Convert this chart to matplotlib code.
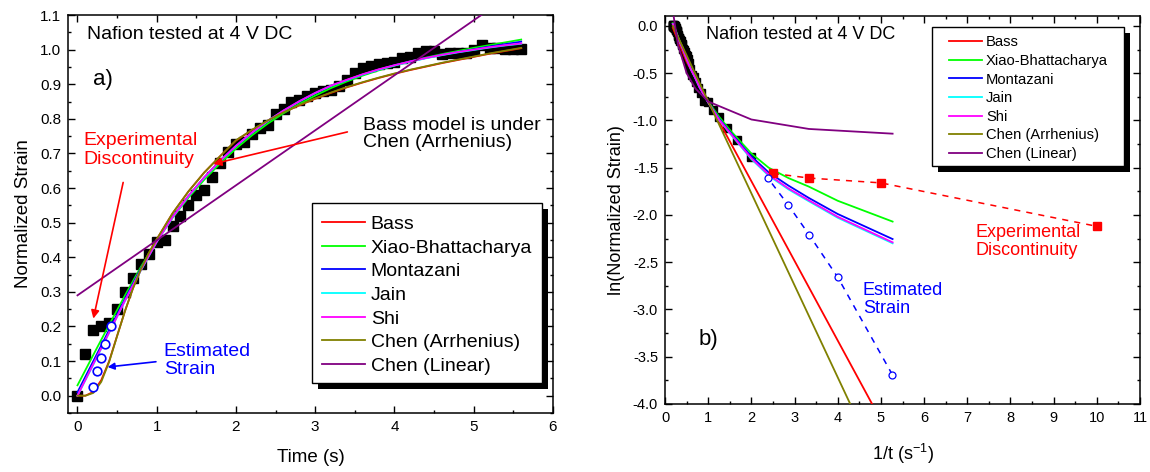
import numpy as np
import matplotlib
matplotlib.use("Agg")
import matplotlib.pyplot as plt
from matplotlib.patches import Rectangle
from matplotlib.ticker import MultipleLocator, FormatStrFormatter

plt.rcParams['font.family'] = ['Liberation Sans', 'DejaVu Sans']
plt.rcParams['axes.unicode_minus'] = False
plt.rcParams['mathtext.default'] = 'regular'

# ------------------------------
# Measured strain (Nafion, 4 V DC)
# ------------------------------
time_s = np.array([0.0, 0.1, 0.2, 0.3, 0.4, 0.5, 0.6, 0.7, 0.8, 0.9, 1.0, 1.1, 1.2, 1.3, 1.4,
                   1.5, 1.6, 1.7, 1.8, 1.9, 2.0, 2.1, 2.2, 2.3, 2.4, 2.5, 2.6, 2.7, 2.8, 2.9,
                   3.0, 3.1, 3.2, 3.3, 3.4, 3.5, 3.6, 3.7, 3.8, 3.9, 4.0, 4.1, 4.2, 4.3, 4.4,
                   4.5, 4.6, 4.7, 4.8, 4.9, 5.0, 5.1, 5.2, 5.3, 5.4, 5.5, 5.6])
strain = np.array([0.0, 0.12, 0.19, 0.20, 0.21, 0.25, 0.30, 0.34, 0.38, 0.41, 0.445, 0.45, 0.49,
                   0.52, 0.55, 0.58, 0.593, 0.632, 0.672, 0.703, 0.728, 0.732, 0.756, 0.774, 0.783,
                   0.815, 0.827, 0.85, 0.855, 0.865, 0.875, 0.88, 0.884, 0.895, 0.913, 0.933, 0.947,
                   0.952, 0.957, 0.96, 0.965, 0.975, 0.98, 0.99, 0.995, 0.995, 0.986, 0.99, 0.99,
                   0.99, 1.0, 1.014, 1.005, 1.005, 1.002, 1.002, 1.002])

# estimated strain (open circles)
est_t = np.array([0.19, 0.25, 0.30, 0.35, 0.42])
est_strain = np.array([0.025, 0.07, 0.11, 0.15, 0.20])

# ------------------------------
# Model fits, panel a)
# ------------------------------
fit_t = [0.0, 0.2, 0.4, 0.6, 0.8, 1.0, 1.2, 1.4, 1.6, 1.8, 2.0, 2.2, 2.4, 2.6, 2.8, 3.0, 3.2,
         3.4, 3.6, 3.8, 4.0, 4.2, 4.4, 4.6, 4.8, 5.0, 5.2, 5.4, 5.6]
xiao = [0.03, 0.118, 0.205, 0.29, 0.372, 0.447, 0.514, 0.572, 0.624, 0.671, 0.714, 0.752, 0.786,
        0.816, 0.843, 0.867, 0.889, 0.908, 0.925, 0.940, 0.954, 0.966, 0.977, 0.987, 0.996,
        1.005, 1.013, 1.021, 1.029]
montazani = [0.01, 0.10, 0.19, 0.28, 0.367, 0.447, 0.517, 0.577, 0.631, 0.679, 0.722, 0.760,
             0.794, 0.824, 0.851, 0.875, 0.896, 0.912, 0.928, 0.942, 0.955, 0.966, 0.976, 0.985,
             0.993, 1.001, 1.009, 1.016, 1.023]
jain = [0.0, 0.09, 0.182, 0.274, 0.362, 0.444, 0.515, 0.576, 0.630, 0.678, 0.721, 0.759, 0.793,
        0.823, 0.850, 0.874, 0.895, 0.912, 0.928, 0.942, 0.954, 0.965, 0.975, 0.984, 0.992,
        0.999, 1.006, 1.012, 1.017]
shi = [0.0, 0.092, 0.183, 0.275, 0.363, 0.445, 0.516, 0.577, 0.631, 0.679, 0.722, 0.760, 0.794,
       0.824, 0.851, 0.875, 0.896, 0.913, 0.929, 0.943, 0.955, 0.966, 0.976, 0.985, 0.993,
       1.000, 1.007, 1.013, 1.018]

arr_t = [0.0, 0.1, 0.2, 0.3, 0.4, 0.5, 0.6, 0.7, 0.8, 0.9, 1.0, 1.2, 1.4, 1.6, 1.8, 2.0, 2.2,
         2.4, 2.6, 2.8, 3.0, 3.2, 3.4, 3.6, 3.8, 4.0, 4.2, 4.4, 4.6, 4.8, 5.0, 5.2, 5.4, 5.6]
chen_arr = [0.0, 0.0, 0.008, 0.04, 0.098, 0.172, 0.245, 0.31, 0.365, 0.412, 0.452, 0.527, 0.59,
            0.645, 0.692, 0.738, 0.768, 0.795, 0.819, 0.840, 0.859, 0.876, 0.892, 0.906, 0.919,
            0.931, 0.942, 0.952, 0.962, 0.971, 0.980, 0.989, 0.997, 1.005]
bass = [0.0, 0.0, 0.011, 0.045, 0.1, 0.173, 0.245, 0.31, 0.365, 0.412, 0.452, 0.527, 0.59,
        0.645, 0.692, 0.737, 0.767, 0.794, 0.818, 0.839, 0.858, 0.875, 0.891, 0.905, 0.918,
        0.930, 0.941, 0.951, 0.961, 0.970, 0.979, 0.988, 0.996, 1.004]
lin_t = [0.0, 5.6]
chen_lin = [0.29, 1.18]

# ------------------------------
# Model fits, panel b)  (x = 1/t, y = ln strain)
# ------------------------------
inv_x = [0.18, 0.2, 0.25, 0.33, 0.4, 0.5, 0.6, 0.7, 0.8, 0.9, 1.0, 1.25, 1.5, 2.0, 2.4, 2.86,
         3.33, 4.0, 5.27]
ln_xiao = [0.03, 0.01, -0.05, -0.15, -0.22, -0.34, -0.45, -0.55, -0.64, -0.72, -0.80, -0.96,
           -1.10, -1.35, -1.50, -1.61, -1.70, -1.85, -2.07]
ln_montazani = [0.02, 0.0, -0.06, -0.16, -0.23, -0.35, -0.46, -0.55, -0.65, -0.73, -0.81, -0.98,
                -1.12, -1.38, -1.55, -1.69, -1.82, -1.99, -2.255]
ln_jain = [0.02, 0.0, -0.06, -0.16, -0.23, -0.35, -0.46, -0.55, -0.65, -0.73, -0.81, -0.995,
           -1.135, -1.41, -1.585, -1.73, -1.855, -2.03, -2.30]
ln_shi = [0.02, 0.0, -0.06, -0.16, -0.23, -0.35, -0.46, -0.55, -0.65, -0.73, -0.81, -0.99,
          -1.13, -1.40, -1.575, -1.72, -1.845, -2.02, -2.29]
bass_x = [0.18, 0.5, 1.0, 5.27]
ln_bass = [-0.02, -0.38, -0.80, -4.40]
arr_x = [0.18, 5.27]
ln_chen_arr = [0.0, -4.955]
lin_x = [0.18, 0.3, 0.5, 0.7, 1.0, 2.0, 3.33, 5.27]
ln_chen_lin = [0.16, -0.20, -0.50, -0.66, -0.80, -0.99, -1.09, -1.14]

labels = ['Bass', 'Xiao-Bhattacharya', 'Montazani', 'Jain', 'Shi', 'Chen (Arrhenius)', 'Chen (Linear)']
colors = ['#ff0000', '#00ff00', '#0000ff', '#00ffff', '#ff00ff', '#808000', '#800080']

fig = plt.figure(figsize=(11.5, 4.72), dpi=100)
ax1 = fig.add_axes([0.0591, 0.125, 0.4217, 0.8432])
ax2 = fig.add_axes([0.5783, 0.1441, 0.4130, 0.8210])


def style_axes(ax, labelsize):
    for s in ax.spines.values():
        s.set_linewidth(1.1)
    ax.tick_params(which='both', direction='in', top=True, right=True, width=1,
                   labelsize=labelsize, pad=5)
    ax.tick_params(which='major', length=5)
    ax.tick_params(which='minor', length=2.5)


def boxed_legend(ax, handles, box, shadow, anchor, fontsize, handlelength):
    x0, y0, x1, y1 = box
    dx, dy = shadow
    ax.add_patch(Rectangle((x0 + dx, y0 - dy), x1 - x0, y1 - y0, transform=ax.transAxes,
                           facecolor='black', edgecolor='none', zorder=4.8, clip_on=False))
    ax.add_patch(Rectangle((x0, y0), x1 - x0, y1 - y0, transform=ax.transAxes,
                           facecolor='white', edgecolor='black', lw=1.0, zorder=4.9,
                           clip_on=False))
    leg = ax.legend(handles=handles, loc='upper left', bbox_to_anchor=anchor, frameon=False,
                    fontsize=fontsize, handlelength=handlelength, handletextpad=0.3,
                    labelspacing=0.31, borderpad=0, borderaxespad=0)
    leg.set_zorder(6)
    return leg


# ==============================
# a) strain vs time
# ==============================
ax1.plot(time_s, strain, 's', color='black', ms=7.4, zorder=2)
fits_a = [(arr_t, bass), (fit_t, xiao), (fit_t, montazani), (fit_t, jain), (fit_t, shi),
          (arr_t, chen_arr), (lin_t, chen_lin)]
handles = []
for (xs, ys), lab, col in zip(fits_a, labels, colors):
    h, = ax1.plot(xs, ys, '-', color=col, lw=1.3, label=lab, zorder=3)
    handles.append(h)
ax1.plot(est_t, est_strain, 'o', mfc='white', mec='#0000ff', mew=1.2, ms=6.2, zorder=4)

ax1.set_xlim(-0.12, 6)
ax1.set_ylim(-0.05, 1.1)
ax1.xaxis.set_major_locator(MultipleLocator(1))
ax1.xaxis.set_minor_locator(MultipleLocator(0.5))
ax1.yaxis.set_major_locator(MultipleLocator(0.1))
ax1.yaxis.set_minor_locator(MultipleLocator(0.05))
ax1.yaxis.set_major_formatter(FormatStrFormatter('%.1f'))
style_axes(ax1, 11)
ax1.set_xlabel('Time (s)', fontsize=13.5, labelpad=11)
ax1.set_ylabel('Normalized Strain', fontsize=13.5, labelpad=6)

ax1.text(0.12, 1.043, 'Nafion tested at 4 V DC', fontsize=14, va='center')
ax1.text(0.2, 0.913, 'a)', fontsize=16, va='center')
ax1.text(0.07, 0.71, 'Experimental\nDiscontinuity', fontsize=14, color='red', va='center',
         linespacing=1.1)
ax1.text(3.6, 0.756, 'Bass model is under\nChen (Arrhenius)', fontsize=14, va='center',
         linespacing=1.05)
ax1.text(1.09, 0.101, 'Estimated\nStrain', fontsize=14, color='#0000ff', va='center',
         linespacing=1.1)
ax1.annotate('', xy=(0.193, 0.215), xytext=(0.584, 0.624),
             arrowprops=dict(arrowstyle='-|>', color='red', lw=1.2, mutation_scale=12))
ax1.annotate('', xy=(1.68, 0.668), xytext=(3.44, 0.764),
             arrowprops=dict(arrowstyle='-|>', color='red', lw=1.2, mutation_scale=12))
ax1.annotate('', xy=(0.345, 0.082), xytext=(1.025, 0.099),
             arrowprops=dict(arrowstyle='-|>', color='#0000ff', lw=1.2, mutation_scale=10))

boxed_legend(ax1, handles, (0.5025, 0.076, 0.978, 0.527), (0.0124, 0.015),
             (0.5243, 0.4965), 14, 2.2)

# ==============================
# b) ln(strain) vs 1/t
# ==============================
exp_mask = time_s >= 0.45
disc_mask = (time_s > 0) & (time_s < 0.45)
disc_x = 1.0 / time_s[disc_mask]
disc_y = np.log(strain[disc_mask])
order = np.argsort(disc_x)

ax2.plot(1.0 / time_s[exp_mask], np.log(strain[exp_mask]), 's', color='black', ms=5.8, zorder=2)
fits_b = [(bass_x, ln_bass), (inv_x, ln_xiao), (inv_x, ln_montazani), (inv_x, ln_jain),
          (inv_x, ln_shi), (arr_x, ln_chen_arr), (lin_x, ln_chen_lin)]
handles_b = []
for (xs, ys), lab, col in zip(fits_b, labels, colors):
    h, = ax2.plot(xs, ys, '-', color=col, lw=1.3, label=lab, zorder=3)
    handles_b.append(h)
ax2.plot(disc_x[order], disc_y[order], ls=(0, (4, 4)), color='red', lw=1.1, marker='s',
         ms=6.2, mfc='red', mec='red', zorder=4)
ax2.plot(1.0 / est_t, np.log(est_strain), ls=(0, (4, 4)), color='#0000ff', lw=1.1,
         marker='o', ms=5, mfc='white', mec='#0000ff', mew=0.9, zorder=4)

ax2.set_xlim(0, 11)
ax2.set_ylim(-4, 0.1)
ax2.xaxis.set_major_locator(MultipleLocator(1))
ax2.xaxis.set_minor_locator(MultipleLocator(0.5))
ax2.yaxis.set_major_locator(MultipleLocator(0.5))
ax2.yaxis.set_minor_locator(MultipleLocator(0.25))
ax2.yaxis.set_major_formatter(FormatStrFormatter('%.1f'))
style_axes(ax2, 10.5)
ax2.set_xlabel('1/t (s$^{-1}$)', fontsize=13, labelpad=12)
ax2.set_ylabel('ln(Normalized Strain)', fontsize=13, labelpad=6)

ax2.text(0.94, -0.095, 'Nafion tested at 4 V DC', fontsize=13, va='center')
ax2.text(0.77, -3.32, 'b)', fontsize=16, va='center')
ax2.text(7.18, -2.28, 'Experimental\nDiscontinuity', fontsize=13, color='red', va='center',
         linespacing=1.1)
ax2.text(4.58, -2.895, 'Estimated\nStrain', fontsize=13, color='#0000ff', va='center',
         linespacing=1.1)

boxed_legend(ax2, handles_b, (0.5627, 0.6154, 0.967, 0.974), (0.0126, 0.0168),
             (0.5985, 0.951), 10.6, 2.2)

fig.savefig('out.png', dpi=100)
